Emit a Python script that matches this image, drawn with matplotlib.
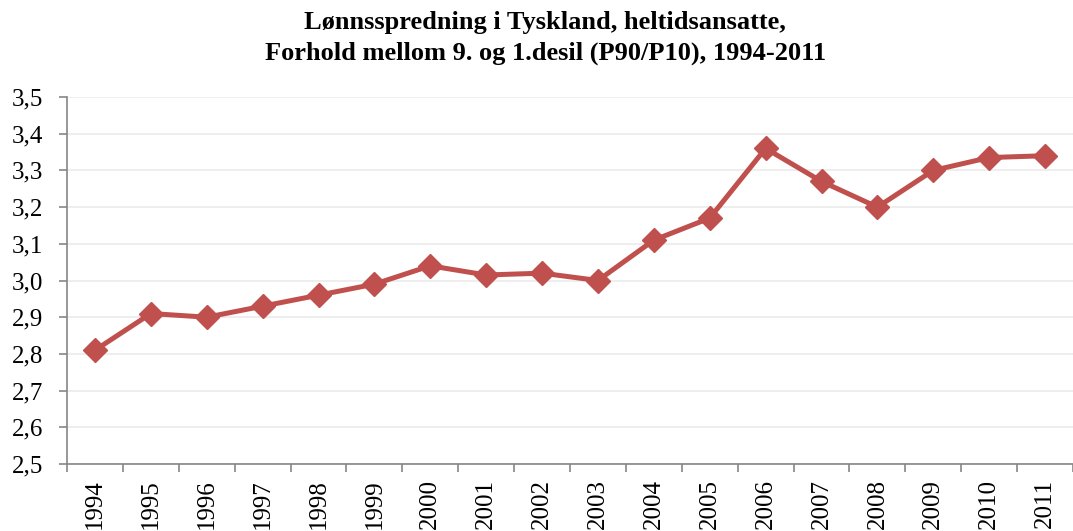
import matplotlib.pyplot as plt
from matplotlib.ticker import FixedLocator, FuncFormatter

years = ["1994", "1995", "1996", "1997", "1998", "1999", "2000", "2001", "2002",
         "2003", "2004", "2005", "2006", "2007", "2008", "2009", "2010", "2011"]
p90_p10 = [2.81, 2.91, 2.90, 2.93, 2.96, 2.99, 3.04, 3.015, 3.02,
           3.00, 3.11, 3.17, 3.36, 3.27, 3.20, 3.30, 3.335, 3.34]
y_ticks = [2.5, 2.6, 2.7, 2.8, 2.9, 3.0, 3.1, 3.2, 3.3, 3.4, 3.5]
title_lines = ["Lønnsspredning i Tyskland, heltidsansatte,",
               "Forhold mellom 9. og 1.desil (P90/P10), 1994-2011"]

plt.rcParams["font.family"] = ["Liberation Serif", "DejaVu Serif"]

fig = plt.figure(figsize=(10.73, 5.31), dpi=100)
ax = fig.add_axes([67 / 1073, 1 - 464 / 531, 1 - 67 / 1073, (464 - 97) / 531])

x = list(range(len(years)))
ax.plot(x, p90_p10, color="#C0504D", linewidth=3.6, marker="D", markersize=12.5,
        zorder=3)

ax.set_xlim(-0.5, len(years) - 0.5)
ax.set_ylim(2.5, 3.5)
ax.set_yticks(y_ticks)
ax.yaxis.set_major_formatter(FuncFormatter(lambda v, p: f"{v:.1f}".replace(".", ",")))
ax.grid(axis="y", color="#EEEEEE", linewidth=1.4)
ax.set_axisbelow(True)

# year labels centred, ticks sit between categories
ax.set_xticks(x)
ax.set_xticklabels(years, rotation=90, fontsize=18)
ax.tick_params(axis="x", which="major", length=0, pad=11)
ax.xaxis.set_minor_locator(FixedLocator([i - 0.5 for i in range(len(years) + 1)]))
ax.tick_params(axis="x", which="minor", length=6, color="#868686", width=1.2)
ax.tick_params(axis="y", length=6, color="#868686", width=1.2, labelsize=18, pad=11)

for s in ["top", "right"]:
    ax.spines[s].set_visible(False)
for s in ["left", "bottom"]:
    ax.spines[s].set_color("#868686")
    ax.spines[s].set_linewidth(1.2)

fig.text(0.508, 1 - 29 / 531, title_lines[0], ha="center", va="baseline",
         fontsize=19, fontweight="bold")
fig.text(0.508, 1 - 60 / 531, title_lines[1], ha="center", va="baseline",
         fontsize=19, fontweight="bold")

fig.savefig("out.png", dpi=100)
